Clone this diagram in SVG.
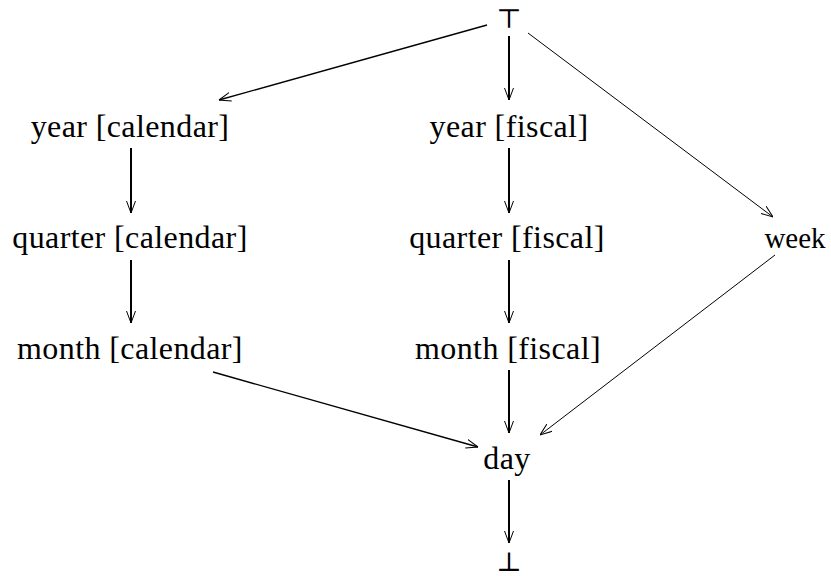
<svg xmlns="http://www.w3.org/2000/svg" width="831" height="576" viewBox="0 0 831 576">
<style>
text{font-family:"Liberation Serif","DejaVu Serif",serif;font-size:32px;letter-spacing:0.4px;fill:#000;text-anchor:middle}
.sym{font-family:"DejaVu Serif",serif;font-size:27px;letter-spacing:0}
.wk{font-size:29px;letter-spacing:0}
.e{stroke:#000;fill:none;marker-end:url(#a)}
.v{stroke-width:2}
.d{stroke-width:1}
.w{stroke-width:1.4}
</style>
<defs>
<marker id="a" viewBox="0 0 12 10" refX="12" refY="5" markerWidth="12" markerHeight="10" markerUnits="userSpaceOnUse" orient="auto">
<path d="M0,0.5 L12,5 L0,9.5" fill="none" stroke="#000" stroke-width="1"/>
</marker>
</defs>
<rect width="831" height="576" fill="#fff"/>
<g id="edges">
<line class="e w" x1="487" y1="25" x2="219" y2="100"/>
<line class="e v" x1="509" y1="36" x2="509" y2="100"/>
<line class="e d" x1="528" y1="33" x2="773" y2="217"/>
<line class="e v" x1="131" y1="148" x2="131" y2="213"/>
<line class="e v" x1="131" y1="260" x2="131" y2="323"/>
<line class="e v" x1="509" y1="148" x2="509" y2="213"/>
<line class="e v" x1="509" y1="260" x2="509" y2="323"/>
<line class="e v" x1="509" y1="370" x2="509" y2="433"/>
<line class="e w" x1="213" y1="372" x2="478" y2="447"/>
<line class="e d" x1="775" y1="255" x2="540" y2="435"/>
<line class="e v" x1="509" y1="480" x2="509" y2="543"/>
</g>
<g id="top"><text class="sym" x="509" y="28">⊤</text></g>
<g id="year_calendar"><text x="130" y="137">year [calendar]</text></g>
<g id="year_fiscal"><text x="509" y="137">year [fiscal]</text></g>
<g id="quarter_calendar"><text x="130" y="248">quarter [calendar]</text></g>
<g id="quarter_fiscal"><text x="507" y="248">quarter [fiscal]</text></g>
<g id="week"><text class="wk" x="795" y="248">week</text></g>
<g id="month_calendar"><text x="130" y="359">month [calendar]</text></g>
<g id="month_fiscal"><text x="508" y="359">month [fiscal]</text></g>
<g id="day"><text x="507" y="469">day</text></g>
<g id="bottom"><text class="sym" x="509" y="571">⊥</text></g>
</svg>
